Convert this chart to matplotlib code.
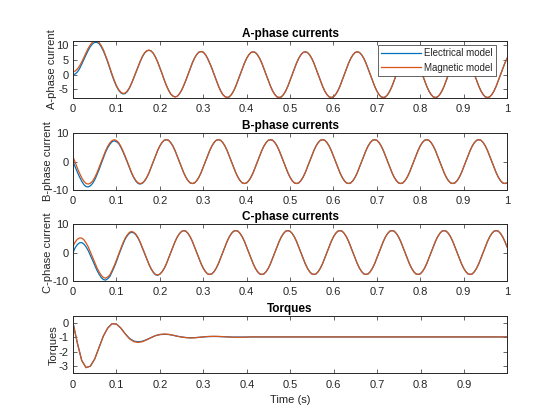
import numpy as np
import matplotlib
matplotlib.use("Agg")
from matplotlib import pyplot as plt
from matplotlib.ticker import FuncFormatter

# time grids (s): currents sampled every 5 ms, torque logged up to 0.999 s
time = np.linspace(0, 1, 201)
torque_time = np.linspace(0, 0.999, 101)

ia_magnetic = [
    1.1, 1.2, 1.9, 2.9, 4.3, 5.8, 7.4, 8.9, 10.1, 11.0, 11.4, 11.4,
    10.9, 9.8, 8.4, 6.5, 4.5, 2.3, 0.1, -1.9, -3.7, -5.0, -5.9, -6.3,
    -6.2, -5.5, -4.4, -2.8, -1.0, 0.9, 2.8, 4.6, 6.2, 7.4, 8.1, 8.3,
    8.0, 7.2, 5.9, 4.3, 2.4, 0.4, -1.7, -3.6, -5.2, -6.5, -7.2, -7.5,
    -7.3, -6.5, -5.3, -3.7, -1.9, 0.1, 2.1, 4.0, 5.6, 6.8, 7.6, 7.8,
    7.6, 6.8, 5.5, 3.9, 2.1, 0.1, -2.0, -3.8, -5.4, -6.7, -7.4, -7.7,
    -7.5, -6.7, -5.5, -3.9, -2.0, 0.0, 2.0, 3.9, 5.5, 6.7, 7.5, 7.7,
    7.5, 6.7, 5.5, 3.9, 2.0, 0.0, -2.0, -3.9, -5.5, -6.7, -7.5, -7.7,
    -7.5, -6.7, -5.5, -3.9, -2.0, 0.0, 2.0, 3.9, 5.5, 6.7, 7.5, 7.7,
    7.5, 6.7, 5.5, 3.9, 2.0, 0.0, -2.0, -3.9, -5.5, -6.7, -7.5, -7.7,
    -7.5, -6.7, -5.5, -3.9, -2.0, 0.0, 2.0, 3.9, 5.5, 6.7, 7.5, 7.7,
    7.5, 6.7, 5.5, 3.9, 2.0, 0.0, -2.0, -3.9, -5.5, -6.7, -7.5, -7.7,
    -7.5, -6.7, -5.5, -3.9, -2.0, 0.0, 2.0, 3.9, 5.5, 6.7, 7.5, 7.7,
    7.5, 6.7, 5.5, 3.9, 2.0, 0.0, -2.0, -3.9, -5.5, -6.7, -7.5, -7.7,
    -7.5, -6.7, -5.5, -3.9, -2.0, 0.0, 2.0, 3.9, 5.5, 6.7, 7.5, 7.7,
    7.5, 6.7, 5.5, 3.9, 2.0, 0.0, -2.0, -3.9, -5.5, -6.7, -7.5, -7.7,
    -7.5, -6.7, -5.5, -3.9, -2.0, 0.0, 2.0, 3.9, 5.5,
]
# electrical model only differs during the start-up transient
ia_electrical = [
    0.0, 0.2, 0.9, 2.0, 3.5, 5.1, 6.7, 8.2, 9.5, 10.4, 10.9, 10.9,
    10.5, 9.4, 8.0, 6.2, 4.2, 2.0, -0.2, -2.2, -3.9, -5.2, -6.1, -6.5,
    -6.4, -5.7, -4.5, -2.9, -1.1, 0.8, 2.7, 4.5, 6.1, 7.3, 8.0, 8.2,
] + ia_magnetic[36:]

ib_magnetic = [
    1.7, -0.3, -2.3, -4.1, -5.7, -6.9, -7.7, -7.9, -7.6, -6.9, -5.6, -4.0,
    -2.1, -0.1, 1.9, 3.8, 5.4, 6.6, 7.4, 7.7, 7.4, 6.7, 5.4, 3.8,
    2.0, 0.0, -2.0, -3.9, -5.5, -6.7, -7.5, -7.7, -7.5, -6.7, -5.5, -3.9,
    -2.0, 0.0, 2.0, 3.9, 5.5, 6.7, 7.5, 7.7, 7.5, 6.7, 5.5, 3.9,
    2.0, 0.0, -2.0, -3.9, -5.5, -6.7, -7.5, -7.7, -7.5, -6.7, -5.5, -3.9,
    -2.0, 0.0, 2.0, 3.9, 5.5, 6.7, 7.5, 7.7, 7.5, 6.7, 5.5, 3.9,
    2.0, 0.0, -2.0, -3.9, -5.5, -6.7, -7.5, -7.7, -7.5, -6.7, -5.5, -3.9,
    -2.0, 0.0, 2.0, 3.9, 5.5, 6.7, 7.5, 7.7, 7.5, 6.7, 5.5, 3.9,
    2.0, 0.0, -2.0, -3.9, -5.5, -6.7, -7.5, -7.7, -7.5, -6.7, -5.5, -3.9,
    -2.0, 0.0, 2.0, 3.9, 5.5, 6.7, 7.5, 7.7, 7.5, 6.7, 5.5, 3.9,
    2.0, 0.0, -2.0, -3.9, -5.5, -6.7, -7.5, -7.7, -7.5, -6.7, -5.5, -3.9,
    -2.0, 0.0, 2.0, 3.9, 5.5, 6.7, 7.5, 7.7, 7.5, 6.7, 5.5, 3.9,
    2.0, 0.0, -2.0, -3.9, -5.5, -6.7, -7.5, -7.7, -7.5, -6.7, -5.5, -3.9,
    -2.0, 0.0, 2.0, 3.9, 5.5, 6.7, 7.5, 7.7, 7.5, 6.7, 5.5, 3.9,
    2.0, 0.0, -2.0, -3.9, -5.5, -6.7, -7.5, -7.7, -7.5, -6.7, -5.5, -3.9,
    -2.0, 0.0, 2.0, 3.9, 5.5, 6.7, 7.5, 7.7, 7.5, 6.7, 5.5, 3.9,
    2.0, 0.0, -2.0, -3.9, -5.5, -6.7, -7.5, -7.7, -7.5,
]
ib_electrical = [
    0.0, -1.9, -3.7, -5.4, -6.9, -8.1, -8.8, -8.9, -8.5, -7.7, -6.4, -4.7,
    -2.8, -0.7, 1.3, 3.3, 4.9, 6.1, 7.0, 7.3, 7.0, 6.4, 5.1, 3.5,
    1.7, -0.2, -2.2, -4.1, -5.7, -6.9, -7.7, -7.9, -7.6, -6.8, -5.6, -4.0,
] + ib_magnetic[36:]

ic_magnetic = [
    2.2, 3.7, 4.7, 5.1, 5.1, 4.5, 3.4, 2.0, 0.2, -1.6, -3.5, -5.3,
    -6.8, -8.0, -8.8, -9.0, -8.6, -7.8, -6.3, -4.6, -2.7, -0.6, 1.4, 3.3,
    5.0, 6.2, 7.1, 7.4, 7.1, 6.4, 5.2, 3.6, 1.7, -0.2, -2.2, -4.1,
    -5.7, -6.9, -7.7, -7.9, -7.6, -6.8, -5.6, -4.0, -2.1, -0.1, 1.9, 3.8,
    5.4, 6.6, 7.4, 7.7,
    7.5, 6.7, 5.5, 3.9, 2.0, 0.0, -2.0, -3.9, -5.5, -6.7, -7.5, -7.7,
    -7.5, -6.7, -5.5, -3.9, -2.0, 0.0, 2.0, 3.9, 5.5, 6.7, 7.5, 7.7,
    7.5, 6.7, 5.5, 3.9, 2.0, 0.0, -2.0, -3.9, -5.5, -6.7, -7.5, -7.7,
    -7.5, -6.7, -5.5, -3.9, -2.0, 0.0, 2.0, 3.9, 5.5, 6.7, 7.5, 7.7,
    7.5, 6.7, 5.5, 3.9, 2.0, 0.0, -2.0, -3.9, -5.5, -6.7, -7.5, -7.7,
    -7.5, -6.7, -5.5, -3.9, -2.0, 0.0, 2.0, 3.9, 5.5, 6.7, 7.5, 7.7,
    7.5, 6.7, 5.5, 3.9, 2.0, 0.0, -2.0, -3.9, -5.5, -6.7, -7.5, -7.7,
    -7.5, -6.7, -5.5, -3.9, -2.0, 0.0, 2.0, 3.9, 5.5, 6.7, 7.5, 7.7,
    7.5, 6.7, 5.5, 3.9, 2.0, 0.0, -2.0, -3.9, -5.5, -6.7, -7.5, -7.7,
    -7.5, -6.7, -5.5, -3.9, -2.0, 0.0, 2.0, 3.9, 5.5, 6.7, 7.5, 7.7,
    7.5, 6.7, 5.5, 3.9, 2.0, 0.0, -2.0, -3.9, -5.5, -6.7, -7.5, -7.7,
    -7.5, -6.7, -5.5, -3.9, -2.0, 0.0, 2.0, 3.9, 5.5, 6.7, 7.5, 7.7,
    7.5, 6.7, 5.5, 3.9, 2.0,
]
ic_electrical = [
    0.0, 1.7, 2.8, 3.4, 3.5, 3.0, 2.0, 0.7, -1.0, -2.7, -4.5, -6.2,
    -7.6, -8.8, -9.5, -9.7, -9.2, -8.4, -6.8, -5.1, -3.2, -1.0, 1.0, 2.9,
    4.7, 5.9, 6.8, 7.1, 6.9, 6.2, 5.0, 3.4, 1.5, -0.4, -2.4, -4.2,
    -5.8, -7.0, -7.8, -8.0,
] + ic_magnetic[40:]

torque_magnetic = [
    0.0, -1.4, -2.6, -3.1, -3.0, -2.5, -1.7, -0.9, -0.35, -0.05, -0.08,
    -0.35, -0.75, -1.1, -1.3, -1.35, -1.3, -1.17, -1.02, -0.88, -0.8,
    -0.77, -0.79, -0.85, -0.92, -0.98, -1.02, -1.04, -1.03, -1.0, -0.97,
    -0.94, -0.93, -0.93, -0.94, -0.96, -0.98, -0.99, -0.99, -0.99, -0.98,
] + [-0.97] * 60
torque_electrical = [
    0.0, -1.4, -2.6, -3.1, -3.0, -2.5, -1.7, -0.9, -0.35, -0.05, -0.08,
    -0.35, -0.74, -1.07, -1.26, -1.31, -1.27, -1.15, -1.01, -0.88, -0.81,
    -0.79, -0.8, -0.85, -0.92, -0.97, -1.01, -1.03, -1.02, -1.0, -0.97,
    -0.95, -0.94, -0.94, -0.95, -0.96, -0.97, -0.98, -0.98, -0.98, -0.98,
] + [-0.97] * 60

titles = ["A-phase currents", "B-phase currents", "C-phase currents", "Torques"]
ylabels = ["A-phase current", "B-phase current", "C-phase current", "Torques"]
legend_labels = ["Electrical model", "Magnetic model"]
yticks = [[-5, 0, 5, 10], [-10, 0, 10], [-10, 0, 10], [-3, -2, -1, 0]]
ylims = [(-7.75, 11.45), (-10, 10), (-10, 10), (-3.5, 0.45)]
xticks_currents = [0, 0.1, 0.2, 0.3, 0.4, 0.5, 0.6, 0.7, 0.8, 0.9, 1]
xticks_torque = [0, 0.1, 0.2, 0.3, 0.4, 0.5, 0.6, 0.7, 0.8, 0.9]

BLUE = "#0072BD"
ORANGE = "#D95319"
GREY = "#262626"

plt.rcParams['font.family'] = ['Liberation Sans', 'DejaVu Sans']

fig = plt.figure(figsize=(5.6, 4.2), dpi=100)
fig.patch.set_facecolor("white")

bottoms = [0.7675, 0.5475, 0.331, 0.111]
label_x = [-0.037, -0.045, -0.045, -0.034]
series = [
    (time, ia_electrical, ia_magnetic),
    (time, ib_electrical, ib_magnetic),
    (time, ic_electrical, ic_magnetic),
    (torque_time, torque_electrical, torque_magnetic),
]
fmt = FuncFormatter(lambda v, pos: '%g' % v)

axes = []
for i, (t, elec, magn) in enumerate(series):
    ax = fig.add_axes([0.1304, bottoms[i], 0.775, 0.1355])
    ax.plot(t, elec, color=BLUE, linewidth=0.9, label=legend_labels[0])
    ax.plot(t, magn, color=ORANGE, linewidth=0.9, label=legend_labels[1])
    ax.set_xlim(t[0], t[-1])
    ax.set_ylim(*ylims[i])
    ax.set_yticks(yticks[i])
    ax.set_xticks(xticks_torque if i == 3 else xticks_currents)
    ax.xaxis.set_major_formatter(fmt)
    ax.yaxis.set_major_formatter(fmt)
    ax.tick_params(axis='both', direction='in', which='both', length=3.2,
                   width=0.5, top=True, right=True, labelsize=8,
                   colors=GREY, pad=3)
    ax.tick_params(axis='x', pad=4.5)
    for spine in ax.spines.values():
        spine.set_linewidth(0.7)
        spine.set_color(GREY)
    ax.set_title(titles[i], fontsize=8.5, fontweight='bold', pad=3, color='black')
    ax.set_ylabel(ylabels[i], fontsize=8, color=GREY)
    ax.yaxis.set_label_coords(label_x[i], 0.5)
    axes.append(ax)

axes[3].set_xlabel("Time (s)", fontsize=8, color=GREY, labelpad=4)

leg = axes[0].legend(loc='upper right', bbox_to_anchor=(0.974, 0.924),
                     borderaxespad=0, fontsize=7, fancybox=False, framealpha=1,
                     edgecolor=GREY, handlelength=4.1, handletextpad=0.3,
                     borderpad=0.35, labelspacing=0.45)
leg.get_frame().set_linewidth(0.5)
for text in leg.get_texts():
    text.set_color(GREY)

fig.savefig("out.png", dpi=100)
